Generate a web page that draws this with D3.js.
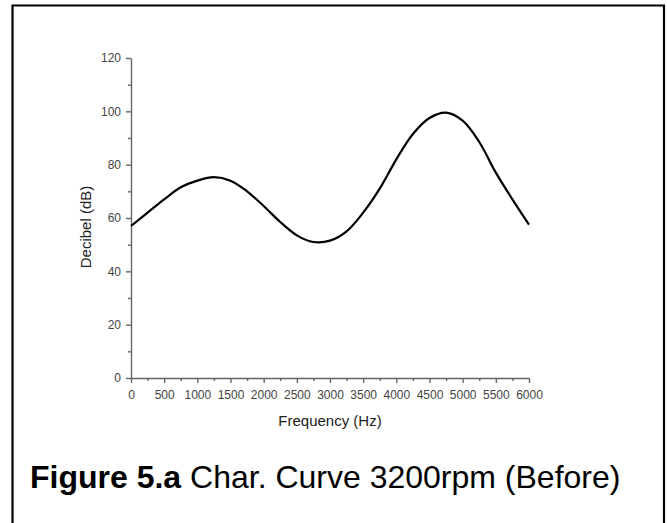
<!DOCTYPE html>
<html><head><meta charset="utf-8">
<script src="https://cdn.jsdelivr.net/npm/d3@7/dist/d3.min.js"></script>
<style>html,body{margin:0;padding:0;background:#fff;}svg{display:block;}</style>
</head><body>
<svg id="c" width="667" height="523"></svg>
<script>
const freq = [0,250,500,750,1000,1250,1500,1750,2000,2250,2500,2750,3000,3250,3500,3750,4000,4250,4500,4750,5000,5250,5500,5750,6000];
const decibel = [57,62,67,71.5,74,75.3,74,70,64.5,58.5,53.5,51,51.5,55,62,71,82,91.5,97.5,99.5,96.5,88.5,77,67,57.5];
const xTicks = [0,500,1000,1500,2000,2500,3000,3500,4000,4500,5000,5500,6000];
const yTicks = [0,20,40,60,80,100,120];
const xTitle = "Frequency (Hz)";
const yTitle = "Decibel (dB)";
const captionBold = "Figure 5.a";
const captionRest = " Char. Curve 3200rpm (Before)";

const svg = d3.select("#c");
// frame
svg.append("path").attr("d","M12.5,530 V5.5 H664 V530").attr("fill","none").attr("stroke","#000").attr("stroke-width",2.2);

const x = d3.scaleLinear().domain([0,6000]).range([131,529]);
const y = d3.scaleLinear().domain([0,120]).range([378,58]);
const axisColor = "#666";
const font = "Arial, 'Liberation Sans', sans-serif";

const xMinor = d3.range(250,6000,500);
const yMinor = d3.range(10,120,20);

const gx = svg.append("g").attr("transform","translate(0,378)");
gx.call(d3.axisBottom(x).tickValues(xTicks).tickSize(5).tickPadding(7).tickSizeOuter(0).tickFormat(d3.format("d")));
const gxm = svg.append("g").attr("transform","translate(0,378)");
gxm.call(d3.axisBottom(x).tickValues(xMinor).tickSize(3).tickFormat("").tickSizeOuter(0));
gxm.select(".domain").remove();

const gy = svg.append("g").attr("transform","translate(131,0)");
gy.call(d3.axisLeft(y).tickValues(yTicks).tickSize(5).tickPadding(5).tickSizeOuter(0));
const gym = svg.append("g").attr("transform","translate(131,0)");
gym.call(d3.axisLeft(y).tickValues(yMinor).tickSize(3).tickFormat("").tickSizeOuter(0));
gym.select(".domain").remove();

svg.selectAll(".domain, .tick line").attr("stroke",axisColor).attr("stroke-width",1.4);
svg.selectAll(".tick text").attr("fill","#444").style("font-family",font).style("font-size","12px");

// axis titles
svg.append("text").attr("x",330).attr("y",426).attr("text-anchor","middle")
  .style("font-family",font).style("font-size","15px").attr("fill","#222").text(xTitle);
svg.append("text").attr("transform","translate(91,227) rotate(-90)").attr("text-anchor","middle")
  .style("font-family",font).style("font-size","15px").attr("fill","#222").text(yTitle);

// curve
const line = d3.line().x((d,i)=>x(freq[i])).y(d=>y(d)).curve(d3.curveCatmullRom.alpha(0.5));
svg.append("path").datum(decibel).attr("d",line).attr("fill","none").attr("stroke","#000").attr("stroke-width",2.2);

// caption
const cap = svg.append("text").attr("x",30).attr("y",488)
  .style("font-family",font).style("font-size","32px").attr("fill","#000");
cap.append("tspan").attr("font-weight","bold").text(captionBold);
cap.append("tspan").text(captionRest);
</script>
</body></html>
